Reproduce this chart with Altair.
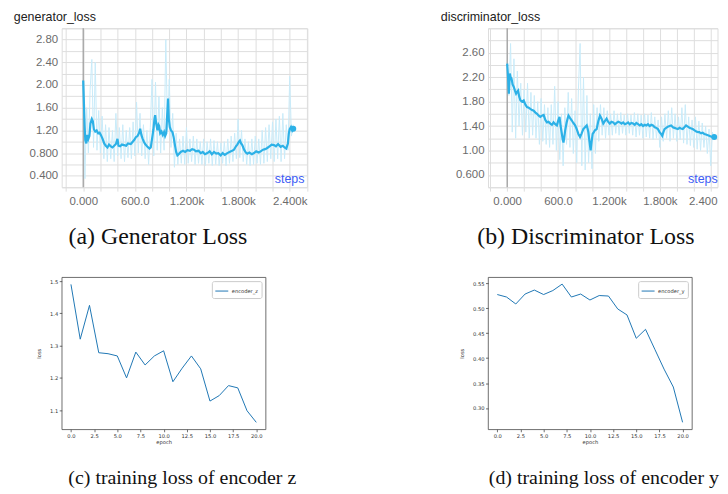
import altair as alt
import pandas as pd

# ---------------- data ----------------
# (a) generator loss - smoothed curve
GEN_SMOOTH_STEPS = [0, 8, 16, 24, 36, 48, 60, 72, 84, 100, 112, 124, 140, 156, 172, 190, 205, 225, 244, 262,
                    282, 300, 321, 340, 360, 380, 398, 410, 430, 450, 476, 500, 520, 553, 575, 592, 612, 631, 648, 662,
                    676, 689, 705, 720, 747, 770, 785, 800, 816, 828, 836, 848, 863, 875, 882, 895, 910, 925, 940, 952,
                    965, 975, 986, 995, 1006, 1020, 1037, 1050, 1065, 1080, 1095, 1110, 1133, 1160, 1185, 1211, 1240, 1265, 1288, 1310,
                    1340, 1366, 1390, 1415, 1443, 1470, 1495, 1520, 1545, 1570, 1598, 1620, 1645, 1675, 1700, 1730, 1752, 1775, 1791, 1810,
                    1822, 1835, 1849, 1870, 1890, 1907, 1930, 1960, 1985, 2010, 2040, 2062, 2090, 2115, 2139, 2165, 2190, 2217, 2240, 2265,
                    2294, 2320, 2340, 2360, 2379, 2390, 2400, 2415, 2430, 2441]
GEN_SMOOTH_VALUES = [2.08, 1.70, 1.30, 1.03, 0.97, 1.12, 1.05, 1.10, 1.32, 1.40, 1.36, 1.22, 1.18, 1.20, 1.15, 1.16, 1.12, 1.05, 0.97, 0.93,
                     0.90, 0.95, 0.92, 0.90, 0.93, 0.96, 1.05, 0.93, 0.92, 0.95, 0.94, 0.93, 0.97, 0.96, 1.00, 1.03, 1.08, 1.10, 1.15, 1.23,
                     1.12, 1.06, 1.00, 0.96, 0.91, 0.88, 0.90, 1.05, 1.22, 1.40, 1.47, 1.32, 1.20, 1.30, 1.28, 1.15, 1.18, 1.12, 1.17, 1.10,
                     1.15, 1.45, 1.76, 1.40, 1.26, 1.20, 1.17, 1.09, 0.95, 0.82, 0.76, 0.78, 0.82, 0.84, 0.82, 0.85, 0.84, 0.87, 0.86, 0.83,
                     0.84, 0.80, 0.82, 0.78, 0.80, 0.83, 0.78, 0.82, 0.79, 0.80, 0.76, 0.80, 0.77, 0.80, 0.82, 0.84, 0.86, 0.92, 0.95, 1.00,
                     1.02, 0.97, 0.94, 0.86, 0.81, 0.79, 0.81, 0.78, 0.80, 0.83, 0.81, 0.83, 0.86, 0.87, 0.89, 0.92, 0.95, 0.94, 0.92, 0.96,
                     0.91, 0.93, 0.90, 0.88, 0.97, 1.15, 1.22, 1.26, 1.20, 1.23]
# (a) generator loss - raw values, logged every 20 steps
GEN_RAW_STEPS = list(range(0, 2441, 20))
GEN_RAW_VALUES = [2.05, 0.35, 1.60, 0.80, 1.90, 2.45, 0.90, 2.40, 0.85, 1.55, 0.80, 1.45, 0.70, 1.30, 0.65, 1.25, 0.70, 1.20, 0.65, 1.50,
                  0.75, 1.25, 0.70, 1.30, 0.65, 1.20, 0.72, 1.25, 0.70, 1.35, 0.75, 1.70, 0.80, 1.50, 0.75, 1.30, 0.70, 1.20, 0.60, 1.25,
                  2.10, 0.75, 2.05, 0.85, 1.80, 0.80, 1.60, 0.85, 2.80, 1.20, 2.10, 0.90, 1.50, 0.55, 1.15, 0.60, 1.05, 0.62, 1.10, 0.60,
                  1.25, 0.62, 1.05, 0.65, 1.10, 0.60, 1.05, 0.62, 1.00, 0.60, 1.05, 0.58, 1.00, 0.62, 1.05, 0.58, 1.02, 0.60, 1.00, 0.58,
                  0.98, 0.62, 1.00, 0.58, 1.05, 0.62, 1.10, 0.65, 1.15, 0.70, 1.40, 0.72, 1.20, 0.65, 1.05, 0.60, 1.00, 0.58, 1.05, 0.60,
                  1.10, 0.62, 1.05, 0.60, 1.20, 0.62, 1.25, 0.65, 1.30, 0.70, 1.35, 0.65, 1.40, 0.70, 1.45, 0.65, 1.50, 0.70, 1.30, 0.85,
                  2.15, 1.10, 1.30]

# (b) discriminator loss - smoothed curve
DIS_SMOOTH_STEPS = [0, 6, 12, 20, 26, 31, 40, 51, 64, 78, 92, 105, 117, 129, 142, 156, 175, 195, 215, 234,
                    254, 273, 293, 313, 333, 352, 372, 391, 410, 430, 450, 469, 488, 508, 528, 547, 566, 586, 600, 617,
                    630, 645, 655, 664, 674, 684, 700, 712, 723, 742, 762, 780, 801, 820, 840, 859, 878, 898, 918, 938,
                    948, 957, 970, 984, 996, 1008, 1022, 1035, 1055, 1075, 1094, 1113, 1133, 1152, 1172, 1190, 1210, 1230, 1250, 1270,
                    1290, 1310, 1328, 1348, 1367, 1387, 1406, 1426, 1445, 1465, 1484, 1504, 1523, 1543, 1563, 1582, 1602, 1621, 1641, 1660,
                    1680, 1700, 1719, 1740, 1758, 1777, 1797, 1815, 1828, 1842, 1855, 1875, 1895, 1915, 1934, 1954, 1973, 1993, 2012, 2032,
                    2050, 2070, 2090, 2109, 2130, 2150, 2170, 2188, 2210, 2230, 2250, 2266, 2285, 2305, 2324, 2345, 2365, 2383, 2400, 2420,
                    2441]
DIS_SMOOTH_VALUES = [2.42, 2.30, 2.15, 1.93, 2.10, 2.26, 2.20, 2.18, 2.08, 2.04, 1.98, 1.93, 1.96, 1.98, 1.88, 1.82, 1.80, 1.82, 1.75, 1.71,
                     1.70, 1.68, 1.66, 1.65, 1.62, 1.60, 1.57, 1.55, 1.57, 1.58, 1.50, 1.46, 1.47, 1.44, 1.42, 1.46, 1.43, 1.41, 1.48, 1.55,
                     1.40, 1.27, 1.18, 1.13, 1.22, 1.33, 1.45, 1.52, 1.57, 1.53, 1.49, 1.45, 1.41, 1.35, 1.27, 1.22, 1.28, 1.35, 1.38, 1.41,
                     1.36, 1.30, 1.15, 1.00, 1.15, 1.27, 1.30, 1.33, 1.35, 1.48, 1.57, 1.52, 1.44, 1.48, 1.52, 1.47, 1.44, 1.47, 1.46, 1.43,
                     1.45, 1.47, 1.46, 1.44, 1.46, 1.43, 1.44, 1.46, 1.43, 1.45, 1.44, 1.42, 1.45, 1.43, 1.41, 1.43, 1.40, 1.42, 1.41, 1.43,
                     1.40, 1.42, 1.41, 1.38, 1.37, 1.35, 1.30, 1.27, 1.24, 1.30, 1.35, 1.37, 1.39, 1.40, 1.41, 1.38, 1.37, 1.36, 1.35, 1.37,
                     1.36, 1.35, 1.38, 1.41, 1.39, 1.37, 1.36, 1.35, 1.33, 1.31, 1.30, 1.30, 1.28, 1.29, 1.27, 1.26, 1.25, 1.24, 1.23, 1.22,
                     1.22]
# (b) discriminator loss - raw values, logged every 20 steps
DIS_RAW_STEPS = list(range(0, 2441, 20))
DIS_RAW_VALUES = [2.45, 1.90, 2.75, 1.30, 2.50, 1.20, 2.30, 1.40, 2.10, 1.25, 2.00, 1.30, 2.10, 1.20, 1.95, 1.25, 1.90, 1.20, 1.80, 1.10,
                  1.85, 1.15, 1.75, 1.10, 1.70, 1.05, 1.75, 1.10, 2.05, 1.00, 1.80, 0.85, 1.60, 0.75, 1.70, 1.10, 1.95, 1.05, 1.85, 0.95,
                  1.65, 0.80, 2.00, 2.75, 0.75, 2.20, 0.68, 1.90, 0.80, 1.60, 0.70, 1.75, 0.95, 1.70, 1.15, 1.75, 1.25, 1.70, 1.20, 1.65,
                  1.25, 1.60, 1.25, 1.65, 1.28, 1.60, 1.25, 1.62, 1.28, 1.58, 1.25, 1.60, 1.28, 1.58, 1.25, 1.62, 1.22, 1.60, 1.25, 1.58,
                  1.20, 1.60, 1.22, 1.58, 1.20, 1.62, 1.18, 1.55, 1.20, 1.50, 1.05, 1.55, 1.15, 1.60, 1.20, 1.65, 1.15, 1.70, 1.20, 1.60,
                  1.15, 1.55, 1.18, 1.70, 1.12, 1.75, 1.10, 1.55, 1.08, 1.50, 1.05, 1.55, 1.02, 1.48, 1.00, 1.45, 1.05, 1.40, 0.95, 1.35,
                  0.75, 1.30, 1.20]

# (c) / (d) encoder losses per epoch
EPOCHS = list(range(21))
ENC_Z = [1.49, 1.32, 1.425, 1.278, 1.275, 1.268, 1.20, 1.28, 1.24, 1.268, 1.284, 1.188, 1.23, 1.268, 1.228, 1.128,
         1.145, 1.176, 1.169, 1.098, 1.062]
ENC_Y = [0.528, 0.523, 0.509, 0.529, 0.537, 0.528, 0.536, 0.549, 0.523, 0.529, 0.517, 0.526, 0.525, 0.499, 0.487,
         0.440, 0.458, 0.418, 0.378, 0.342, 0.271]

# axis tick / label tables
GEN_X_GRID = [-200, 0, 200, 400, 600, 800, 1000, 1200, 1400, 1600, 1800, 2000, 2200, 2400, 2600]
DIS_X_GRID = [-200, 0, 200, 400, 600, 800, 1000, 1200, 1400, 1600, 1800, 2000, 2200, 2400]
GEN_X_LABELS = {0: "0.000", 600: "600.0", 1200: "1.200k", 1800: "1.800k", 2400: "2.400k"}
DIS_X_LABELS = {0: "0.000", 600: "600.0", 1200: "1.200k", 1800: "1.800k", 2400: "2.400"}
GEN_Y_GRID = [0.2, 0.4, 0.6, 0.8, 1.0, 1.2, 1.4, 1.6, 1.8, 2.0, 2.2, 2.4, 2.6, 2.8, 3.0]
DIS_Y_GRID = [0.4, 0.6, 0.8, 1.0, 1.2, 1.4, 1.6, 1.8, 2.0, 2.2, 2.4, 2.6, 2.8, 3.0]
GEN_Y_LABELS = {"0.4": "0.400", "0.8": "0.800", "1.2": "1.20", "1.6": "1.60", "2.0": "2.00", "2.4": "2.40", "2.8": "2.80"}
DIS_Y_LABELS = {"0.6": "0.600", "1.0": "1.00", "1.4": "1.40", "1.8": "1.80", "2.2": "2.20", "2.6": "2.60"}
Z_Y_TICKS = [1.1, 1.2, 1.3, 1.4, 1.5]
Y_Y_TICKS = [0.30, 0.35, 0.40, 0.45, 0.50, 0.55]
MPL_X_TICKS = [0, 2.5, 5, 7.5, 10, 12.5, 15, 17.5, 20]

# ---------------- styles ----------------
RAW_COLOR = "#c9ebf9"
SMOOTH_COLOR = "#2cb1e7"
GRID = "#dedede"
TB_FONT = "Liberation Sans"
CAP_FONT = "Liberation Serif"
MPL_FONT = "DejaVu Sans"


def x_label_expr(mapping):
    expr = "''"
    for k, v in reversed(list(mapping.items())):
        expr = f"datum.value == {k} ? '{v}' : ({expr})"
    return expr


def y_label_expr(mapping):
    expr = "''"
    for k, v in reversed(list(mapping.items())):
        expr = f"format(datum.value, '.1f') == '{k}' ? '{v}' : ({expr})"
    return expr


def tb_panel(raw_steps, raw_vals, sm_steps, sm_vals, name, caption, xdom, xgrid, xlabels,
             ydom, ygrid, ylabels, width, steps_x, title_x, cap_dx, last_label_shift):
    raw_df = pd.DataFrame({"step": raw_steps, "value": raw_vals})
    sm_df = pd.DataFrame({"step": sm_steps, "value": sm_vals})
    end_df = sm_df.tail(1)
    zero_df = pd.DataFrame({"step": [0]})

    x = alt.X("step:Q", scale=alt.Scale(domain=xdom, nice=False, zero=False),
              axis=alt.Axis(values=xgrid, labelExpr=x_label_expr(xlabels), grid=True, gridColor=GRID,
                            domain=False, tickColor=GRID, tickSize=4, labelPadding=4.6,
                            labelOffset={"condition": {"test": "datum.value == 2400", "value": last_label_shift},
                                         "value": 0},
                            labelFont=TB_FONT, labelFontSize=11.5, labelColor="#6b6b6b",
                            labelOverlap=False, labelFlush=False,
                            title="steps", titleX=steps_x, titleY=-5, titleAlign="right",
                            titleBaseline="alphabetic", titleColor="#3d5cf5", titleFont=TB_FONT,
                            titleFontSize=12.5, titleFontWeight="normal"))
    y = alt.Y("value:Q", scale=alt.Scale(domain=ydom, nice=False, zero=False),
              axis=alt.Axis(values=ygrid, labelExpr=y_label_expr(ylabels), grid=True, gridColor=GRID,
                            domain=False, ticks=False, labelPadding=4,
                            labelFont=TB_FONT, labelFontSize=11.5, labelColor="#6b6b6b",
                            labelOverlap=False, labelFlush=False,
                            title=name, titleAngle=0, titleAlign="left", titleBaseline="alphabetic",
                            titleX=title_x, titleY=-8, titleFont=TB_FONT, titleFontSize=12.5,
                            titleFontWeight="normal", titleColor="#222222"))

    raw = alt.Chart(raw_df).mark_line(color=RAW_COLOR, strokeWidth=1, clip=True).encode(x=x, y=y)
    zero = alt.Chart(zero_df).mark_rule(color="#9a9a9a", strokeWidth=1.2).encode(x=x)
    smooth = alt.Chart(sm_df).mark_line(color=SMOOTH_COLOR, strokeWidth=2.2, clip=True).encode(x=x, y=y)
    end = alt.Chart(end_df).mark_circle(color=SMOOTH_COLOR, size=36, opacity=1).encode(x=x, y=y)

    return alt.layer(raw, zero, smooth, end).properties(
        width=width, height=159.8,
        title=alt.TitleParams(caption, orient="bottom", anchor="middle", frame="group",
                              font=CAP_FONT, fontSize=24, fontWeight="normal", color="#111111",
                              offset=18, dx=cap_dx))


def mpl_panel(vals, name, caption, ydom, yticks, yfmt, cap_dx):
    df = pd.DataFrame({"epoch": EPOCHS, "loss": vals, "series": name})
    return alt.Chart(df).mark_line(strokeWidth=1).encode(
        x=alt.X("epoch:Q", scale=alt.Scale(domain=[-1, 21], nice=False, zero=False),
                axis=alt.Axis(values=MPL_X_TICKS, format=".1f", grid=False, domain=False,
                              tickColor="#333333", tickSize=2.5, tickWidth=0.7, labelPadding=1.5,
                              labelFont=MPL_FONT, labelFontSize=5.2, labelColor="#333333",
                              labelOverlap=False, labelFlush=False,
                              title="epoch", titleFont=MPL_FONT, titleFontSize=5.2,
                              titleFontWeight="normal", titleColor="#333333", titlePadding=1.5)),
        y=alt.Y("loss:Q", scale=alt.Scale(domain=ydom, nice=False, zero=False),
                axis=alt.Axis(values=yticks, format=yfmt, grid=False, domain=False,
                              tickColor="#333333", tickSize=2.5, tickWidth=0.7, labelPadding=1.5,
                              labelFont=MPL_FONT, labelFontSize=5.2, labelColor="#333333",
                              labelOverlap=False, labelFlush=False,
                              title="loss", titleFont=MPL_FONT, titleFontSize=5.2,
                              titleFontWeight="normal", titleColor="#333333", titlePadding=8)),
        color=alt.Color("series:N", scale=alt.Scale(domain=[name], range=["#1f77b4"]),
                        legend=alt.Legend(orient="top-right", title=None, offset=4,
                                          strokeColor="#cccccc", fillColor="white", cornerRadius=2,
                                          padding=3, symbolType="stroke", symbolSize=169,
                                          symbolStrokeWidth=1, labelFont=MPL_FONT, labelFontSize=5.2,
                                          labelColor="#333333", labelOffset=3)),
    ).properties(
        width=205, height=153,
        view=alt.ViewBackground(stroke="#4a4a4a", strokeWidth=0.8),
        title=alt.TitleParams(caption, orient="bottom", anchor="middle", frame="group",
                              font=CAP_FONT, fontSize=20, fontWeight="normal", color="#111111",
                              offset=23, dx=cap_dx))


a = tb_panel(GEN_RAW_STEPS, GEN_RAW_VALUES, GEN_SMOOTH_STEPS, GEN_SMOOTH_VALUES, "generator_loss",
             "(a) Generator Loss", [-250, 2600], GEN_X_GRID, GEN_X_LABELS, [0.2, 3.0], GEN_Y_GRID,
             GEN_Y_LABELS, 246.6, 243.6, -48.7, -26.5, 0)
b = tb_panel(DIS_RAW_STEPS, DIS_RAW_VALUES, DIS_SMOOTH_STEPS, DIS_SMOOTH_VALUES, "discriminator_loss",
             "(b) Discriminator Loss", [-226, 2480], DIS_X_GRID, DIS_X_LABELS, [0.4, 3.0], DIS_Y_GRID,
             DIS_Y_LABELS, 230.8, 230.5, -48.0, -17.0, -8)
c = mpl_panel(ENC_Z, "encoder_z", "(c) training loss of encoder z", [1.0405, 1.5125], Z_Y_TICKS, ".1f", 18.8)
d = mpl_panel(ENC_Y, "encoder_y", "(d) training loss of encoder y", [0.257, 0.563], Y_Y_TICKS, ".2f", 14.0)

chart = alt.concat(a, b, c, d, columns=2, spacing={"row": 90.3, "column": 181.7}, bounds="flush").resolve_scale(
    x="independent", y="independent", color="independent"
).properties(
    padding={"left": 4, "top": 0, "right": 0, "bottom": -2}
).configure_view(strokeWidth=0).configure(background="white")

chart.save("out.html", embed_options={"renderer": "svg", "actions": False})
